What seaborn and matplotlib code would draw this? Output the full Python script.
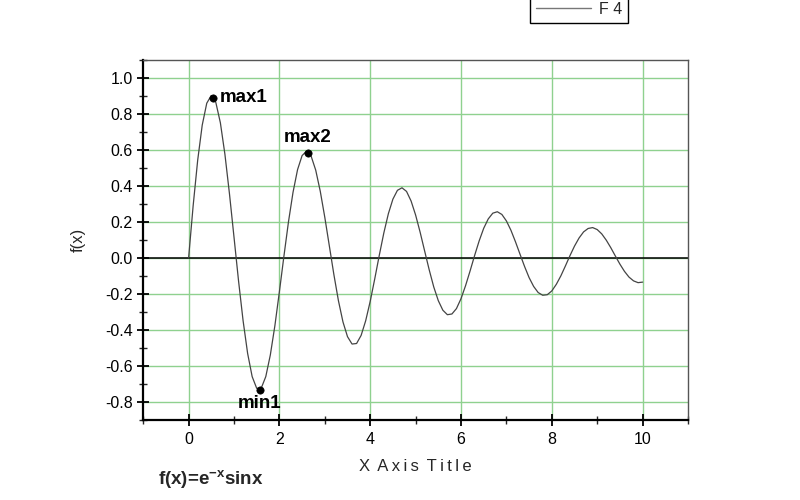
import numpy as np
import matplotlib
matplotlib.use("Agg")
import matplotlib.pyplot as plt
import seaborn as sns
from matplotlib.lines import Line2D
from matplotlib.ticker import MultipleLocator

sns.set_style("white")
plt.rcParams['font.family'] = ['Liberation Sans', 'DejaVu Sans']
plt.rcParams['mathtext.fontset'] = 'custom'
plt.rcParams['mathtext.rm'] = 'Liberation Sans'
plt.rcParams['mathtext.bf'] = 'Liberation Sans:bold'

# curve (x step 0.1)
x_vals = [round(0.1 * i, 1) for i in range(101)]
y_vals = [
    0.000, 0.290, 0.543, 0.738, 0.860, 0.903, 0.864, 0.751, 0.576, 0.357,
    0.116, -0.127, -0.348, -0.530, -0.659, -0.724, -0.723, -0.659, -0.539, -0.377,
    -0.187, 0.011, 0.201, 0.365, 0.491, 0.569, 0.594, 0.565, 0.488, 0.371,
    0.226, 0.067, -0.092, -0.237, -0.355, -0.437, -0.478, -0.475, -0.430, -0.349,
    -0.241, -0.116, 0.015, 0.139, 0.246, 0.327, 0.376, 0.390, 0.370, 0.317,
    0.239, 0.143, 0.038, -0.066, -0.161, -0.237, -0.290, -0.315, -0.311, -0.281,
    -0.226, -0.154, -0.072, 0.014, 0.095, 0.165, 0.217, 0.249, 0.257, 0.242,
    0.206, 0.154, 0.090, 0.021, -0.047, -0.109, -0.158, -0.192, -0.207, -0.204,
    -0.183, -0.146, -0.099, -0.044, 0.013, 0.066, 0.111, 0.145, 0.164, 0.169,
    0.158, 0.134, 0.099, 0.057, 0.011, -0.034, -0.074, -0.106, -0.127, -0.137,
    -0.134,
]

# marked extrema
point_x = [0.53, 2.63, 1.57]
point_y = [0.89, 0.585, -0.733]
point_labels = ['max1', 'max2', 'min1']

xtick_vals = [0, 2, 4, 6, 8, 10]
ytick_vals = [-0.8, -0.6, -0.4, -0.2, 0.0, 0.2, 0.4, 0.6, 0.8, 1.0]

fig = plt.figure(figsize=(8, 5), dpi=100)
ax = fig.add_axes([0.179, 0.16, 0.681, 0.72])

ax.set_xlim(-1, 11)
ax.set_ylim(-0.9, 1.1)
ax.xaxis.set_minor_locator(MultipleLocator(1))
ax.yaxis.set_minor_locator(MultipleLocator(0.1))
ax.set_xticks(xtick_vals)
ax.set_xticklabels([str(v) for v in xtick_vals])
ax.set_yticks(ytick_vals)
ax.set_yticklabels([f'{v:.1f}' for v in ytick_vals])

ax.grid(True, which='major', color='#8fd18f', lw=1.0)
ax.set_axisbelow(True)
ax.axhline(0, color='black', lw=1.1, zorder=1.5)

sns.lineplot(x=x_vals, y=y_vals, ax=ax, color='#444444', lw=0.9, zorder=3)
sns.scatterplot(x=point_x, y=point_y, ax=ax, color='black', s=28,
                edgecolor='black', zorder=4)

# label placement relative to each dot
offsets = {'max1': (5, 0, 'left', 'center'),
           'max2': (0, 5, 'center', 'bottom'),
           'min1': (0, -4, 'center', 'top')}
for px, py, lab in zip(point_x, point_y, point_labels):
    dx, dy, ha, va = offsets[lab]
    ax.annotate(lab, (px, py), xytext=(dx, dy), textcoords='offset points',
                ha=ha, va=va, fontsize=13.5, fontweight='bold', color='black')

for side in ['left', 'bottom']:
    ax.spines[side].set_color('black')
    ax.spines[side].set_linewidth(1.6)
for side in ['top', 'right']:
    ax.spines[side].set_color('#555555')
    ax.spines[side].set_linewidth(1.0)

ax.tick_params(which='major', direction='inout', length=9, width=1.3,
               labelsize=11.5, colors='black')
ax.tick_params(which='minor', direction='inout', length=6, width=1.0)
ax.tick_params(axis='x', which='both', top=False, bottom=True, pad=4)
ax.tick_params(axis='y', which='both', left=True, right=False, pad=3)

# letter-spaced axis title, as in the original
ax.set_xlabel('X\u2009 A\u2009x\u2009i\u2009s\u2009 T\u2009i\u2009t\u2009l\u2009e',
              fontsize=12, labelpad=9)
ax.set_ylabel('f(x)', fontsize=12, labelpad=14)

leg_handle = Line2D([], [], color='#777777', lw=1.0)
fig.legend([leg_handle], ['F 4'], loc='upper left',
           bbox_to_anchor=(0.6525, 1.025), fontsize=11.5, handlelength=3.4,
           frameon=True, fancybox=False, edgecolor='black', framealpha=1,
           borderpad=0.4, handletextpad=0.5)

fig.text(0.197, 0.04, r'f(x)=e$^{\mathbf{-x}}$sinx', fontsize=13.5,
         fontweight='bold', ha='left', va='center')

plt.savefig('out.png', dpi=100)
